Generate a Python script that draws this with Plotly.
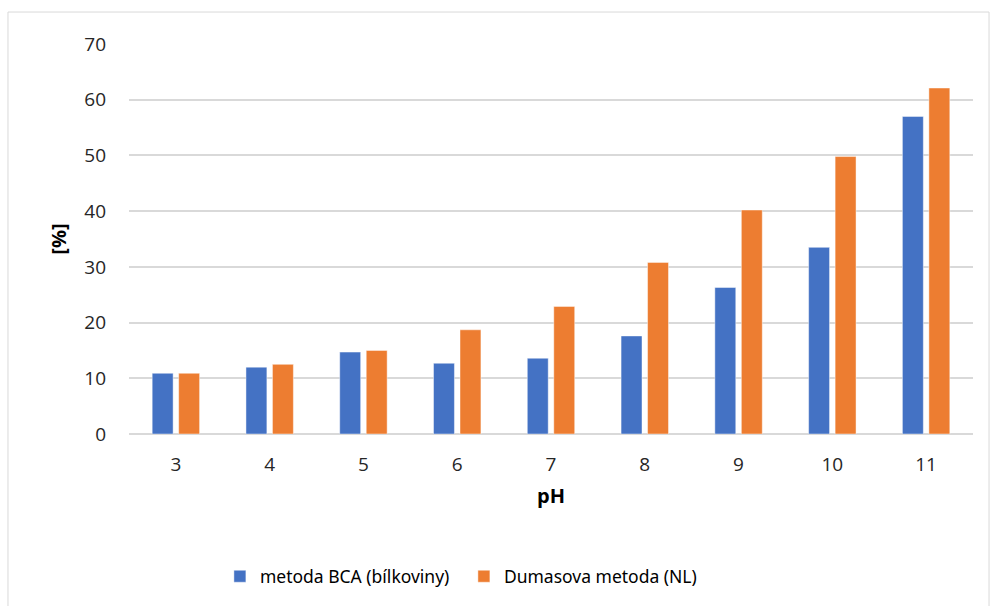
import plotly.graph_objects as go

# pH values and measured fractions [%]
ph_labels = ["3", "4", "5", "6", "7", "8", "9", "10", "11"]
bca_values = [10.9, 12.0, 14.7, 12.7, 13.6, 17.6, 26.3, 33.5, 57.0]
dumas_values = [10.9, 12.5, 15.0, 18.7, 22.9, 30.8, 40.2, 49.8, 62.1]

series_names = ["metoda BCA (bílkoviny)", "Dumasova metoda (NL)"]
blue = "#4472C4"
orange = "#ED7D31"

fig = go.Figure()
fig.add_trace(go.Bar(
    x=ph_labels, y=bca_values, name=series_names[0],
    marker=dict(color=blue, line=dict(color="rgba(255,255,255,0.45)", width=1)),
))
fig.add_trace(go.Bar(
    x=ph_labels, y=dumas_values, name=series_names[1],
    marker=dict(color=orange, line=dict(color="rgba(255,255,255,0.45)", width=1)),
))

tick_font = dict(family="Open Sans, sans-serif", size=19, color="#262626")
title_font = dict(family="Open Sans, sans-serif", size=20, color="#000000")

fig.update_layout(
    width=992, height=606,
    margin=dict(l=129, r=19, t=44, b=172),
    paper_bgcolor="white", plot_bgcolor="white",
    barmode="group", bargap=0.435, bargroupgap=0.21,
    showlegend=True,
    legend=dict(
        orientation="h", x=0.1077, y=-0.365, xanchor="left", yanchor="middle",
        font=dict(family="Noto Sans, sans-serif", size=17.5, color="#000000"),
        itemwidth=30, traceorder="normal", entrywidth=199, entrywidthmode="pixels",
    ),
    xaxis=dict(
        type="category", tickfont=tick_font, showgrid=False, showline=False,
        ticks="", ticklabelstandoff=17,
        title=dict(text="<b>pH</b>", font=title_font, standoff=12),
    ),
    yaxis=dict(
        range=[0, 70], dtick=10, tickfont=tick_font,
        showgrid=True, gridcolor="#d9d9d9", gridwidth=1.5,
        zeroline=True, zerolinecolor="#d9d9d9", zerolinewidth=1.5,
        showline=False, ticks="", ticklabelstandoff=22,
        title=dict(text="<b>[%]</b>", font=title_font, standoff=12),
    ),
    shapes=[dict(
        type="rect", xref="paper", yref="paper",
        x0=-0.1434, x1=1.019, y0=-0.46, y1=1.082,
        line=dict(color="#d9d9d9", width=1), fillcolor="rgba(0,0,0,0)",
        layer="below",
    )],
)

fig.write_html("out.html")
